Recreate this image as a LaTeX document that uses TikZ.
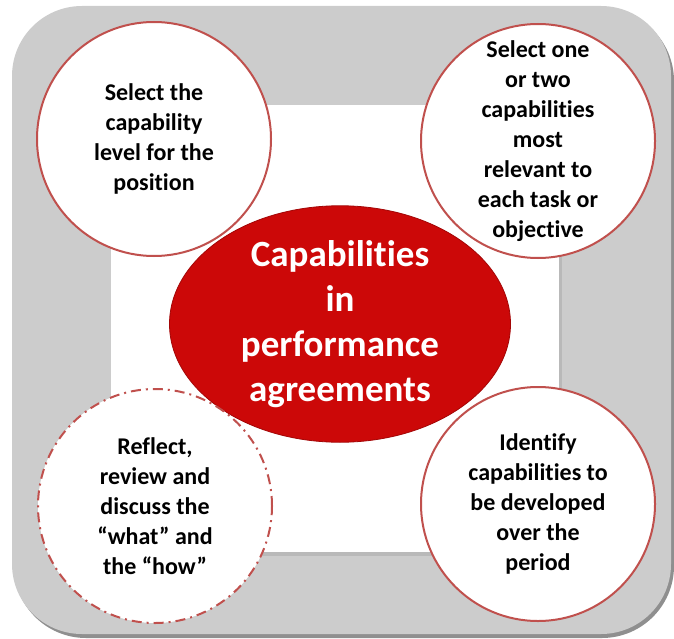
\documentclass[tikz,border=0pt]{standalone}
\usepackage{fontspec}
\setmainfont{Carlito}[Ligatures={NoCommon}]
\usetikzlibrary{shapes.geometric,shadows}
\definecolor{framegray}{RGB}{204,204,204}
\definecolor{rimred}{RGB}{192,80,77}
\definecolor{corered}{RGB}{204,8,8}
\begin{document}
\begin{tikzpicture}[x=1pt, y=-1pt,
    bubble/.style = {circle, draw=rimred, line width=2pt, fill=white,
        minimum size=234pt, inner sep=0pt, align=center,
        font=\fontsize{24}{30}\selectfont\bfseries},
    core/.style = {ellipse, fill=corered, draw=corered!80!black, line width=0.8pt,
        minimum width=341pt, minimum height=199pt, inner sep=0pt, align=center,
        text=white, font=\fontsize{37}{45}\selectfont\bfseries}]
    \useasboundingbox (0,0) rectangle (674,639);
    % frame and inner square
    \fill[framegray!70!black, rounded corners=72pt] (14,9) rectangle (674,638);
    \fill[framegray, rounded corners=70pt] (12,6) rectangle (671,634);
    \fill[gray!55] (113,108) rectangle (562,556);
    \fill[white] (111,105) rectangle (559,552);
    % centre
    \node[core] (core) at (340,324) {Capabilities\\in\\performance\\agreements};
    % the four steps
    \node[bubble] (level) at (154,139) {Select the\\capability\\level for the\\position};
    \node[bubble] (relevant) at (538,141) {Select one\\or two\\capabilities\\most\\relevant to\\each task or\\objective};
    \node[bubble] (develop) at (538,504) {Identify\\capabilities to\\be developed\\over the\\period};
    \node[bubble, dash pattern=on 10pt off 5pt on 2pt off 5pt] (reflect) at (155,506)
        {Reflect,\\review and\\discuss the\\``what'' and\\the ``how''};
\end{tikzpicture}
\end{document}
